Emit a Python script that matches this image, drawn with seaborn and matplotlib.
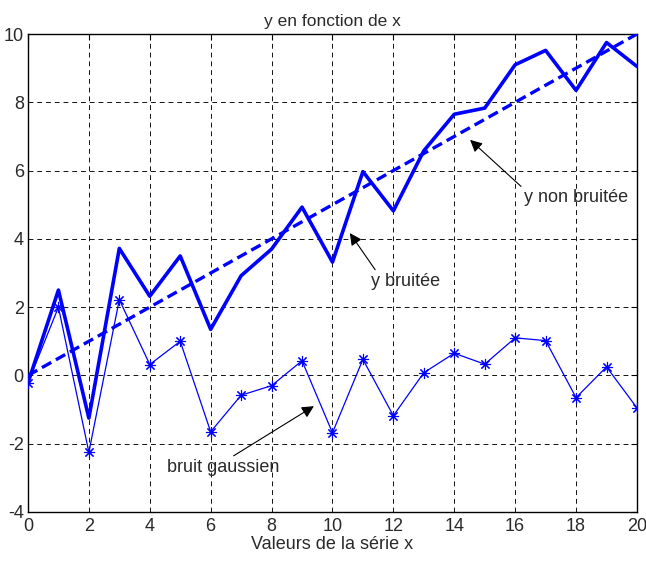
import matplotlib
matplotlib.use("Agg")
import matplotlib.pyplot as plt
import seaborn as sns
import pandas as pd

x_vals = list(range(21))
y_non_bruitee = [0, 0.5, 1, 1.5, 2, 2.5, 3, 3.5, 4, 4.5, 5, 5.5, 6, 6.5, 7, 7.5, 8, 8.5, 9, 9.5, 10]
bruit = [-0.22, 2.0, -2.25, 2.22, 0.32, 1.0, -1.65, -0.58, -0.3, 0.43, -1.68,
         0.47, -1.18, 0.08, 0.65, 0.33, 1.1, 1.02, -0.65, 0.25, -0.95]
y_bruitee = [-0.22, 2.5, -1.25, 3.72, 2.32, 3.5, 1.35, 2.92, 3.7, 4.93, 3.32,
             5.97, 4.82, 6.58, 7.65, 7.83, 9.1, 9.52, 8.35, 9.75, 9.05]

title = "y en fonction de x"
xlabel = "Valeurs de la série x"
x_ticks = list(range(0, 21, 2))
y_ticks = list(range(-4, 11, 2))

sns.set_style("white")
plt.rcParams['font.family'] = ['Liberation Sans', 'DejaVu Sans']
plt.rcParams['axes.unicode_minus'] = False

txt = '#2a2a2a'
fs = 13
df = pd.DataFrame({"x": x_vals, "ynb": y_non_bruitee, "yb": y_bruitee, "bruit": bruit})

fig = plt.figure(figsize=(6.46, 5.64), dpi=100)
ax = fig.add_axes([0.0433, 0.0922, 0.9427, 0.8475])

blue = (0, 0, 1)
sns.lineplot(data=df, x="x", y="ynb", ax=ax, color=blue, lw=2.4, linestyle=(0, (3.2, 1.6)), zorder=3)
sns.lineplot(data=df, x="x", y="yb", ax=ax, color=blue, lw=2.6, zorder=3)
sns.lineplot(data=df, x="x", y="bruit", ax=ax, color=blue, lw=0.9, marker=(8, 2, 0),
             markersize=8, markeredgewidth=0.8, markeredgecolor=blue, zorder=3)

ax.set_xlim(0, 20)
ax.set_ylim(-4, 10)
ax.set_xticks(x_ticks)
ax.set_yticks(y_ticks)
ax.grid(True, color='#111111', linestyle=(0, (5, 4)), linewidth=0.7)
for s in ax.spines.values():
    s.set_color('black')
    s.set_linewidth(1.0)
    s.set_visible(True)
ax.tick_params(direction='in', top=True, right=True, length=4, width=0.8,
               labelsize=fs, color='black', labelcolor=txt, pad=3)
ax.tick_params(axis='x', pad=4)
ax.set_xlabel(xlabel, fontsize=fs, labelpad=1, color=txt)
ax.set_ylabel("")
ax.set_title(title, fontsize=12.5, pad=6, color=txt)

arrow = dict(arrowstyle='-|>', color='black', lw=0.8, mutation_scale=18,
             shrinkA=0, shrinkB=0)
ax.annotate("y non bruitée", xy=(14.52, 6.9), xytext=(16.3, 5.2), fontsize=fs, color=txt,
            va='center', ha='left', arrowprops=dict(arrow, relpos=(0, 1)))
ax.annotate("y bruitée", xy=(10.57, 4.17), xytext=(11.25, 2.75), fontsize=fs, color=txt,
            va='center', ha='left', arrowprops=dict(arrow, relpos=(0.1, 1)))
ax.annotate("bruit gaussien", xy=(9.39, -0.9), xytext=(4.55, -2.7), fontsize=fs, color=txt,
            va='center', ha='left', arrowprops=dict(arrow, relpos=(0.55, 1)))

fig.savefig("out.png", dpi=100)
